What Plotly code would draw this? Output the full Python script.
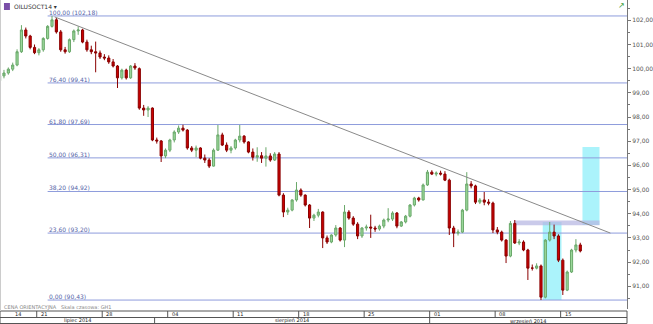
import plotly.graph_objects as go
import pandas as pd

# ---------------- data ----------------
open_ = [99.50, 99.70, 99.82, 99.98, 100.15, 100.70, 101.60, 101.35, 100.88, 100.66,
         100.78, 101.25, 101.75, 102.02, 101.52, 100.78, 100.70, 101.20, 101.56, 101.60,
         101.10, 100.78, 100.70, 100.65, 100.48, 100.44, 100.28, 100.11, 99.62, 99.94,
         99.62, 100.11, 100.00, 98.37, 98.29, 98.37, 97.05, 97.01, 96.39, 96.63,
         97.05, 97.38, 97.54, 97.46, 96.72, 96.63, 96.72, 96.30, 96.22, 95.97,
         96.63, 97.26, 96.84, 96.63, 96.72, 97.05, 97.21, 96.97, 96.55, 96.34,
         96.40, 96.30, 96.39, 96.22, 96.47, 94.77, 94.07, 94.15, 94.57, 94.98,
         94.77, 94.36, 93.82, 93.94, 94.07, 93.00, 92.83, 93.12, 93.41, 92.91,
         94.07, 93.82, 93.57, 93.08, 93.41, 93.45, 93.41, 93.37, 93.49, 93.74,
         93.78, 94.03, 93.49, 93.66, 93.90, 94.36, 94.65, 94.57, 95.19, 95.72,
         95.64, 95.68, 95.64, 95.39, 93.41, 93.20, 93.24, 94.15, 95.23, 95.15,
         94.48, 94.57, 94.48, 94.44, 93.33, 93.24, 92.91, 92.25, 93.60, 92.79,
         92.83, 92.50, 91.75, 91.75, 91.84, 90.55, 92.91, 93.24, 93.08, 92.08,
         90.84, 91.59, 92.50, 92.71]
high = [99.85, 99.95, 100.05, 100.25, 100.80, 101.80, 101.70, 101.40, 101.00, 100.85,
        101.30, 101.80, 102.18, 102.10, 101.60, 100.90, 101.25, 101.62, 101.75, 101.65,
        101.20, 100.95, 101.12, 100.75, 100.60, 100.55, 100.40, 100.15, 100.00, 100.00,
        100.15, 100.23, 100.05, 98.50, 98.45, 98.40, 97.15, 97.05, 96.70, 97.10,
        97.45, 97.65, 97.68, 97.50, 96.80, 96.82, 96.75, 96.45, 96.30, 96.70,
        97.67, 97.35, 96.95, 96.80, 97.10, 97.67, 97.25, 97.00, 96.70, 96.75,
        96.55, 96.75, 96.50, 96.55, 96.55, 94.85, 94.25, 94.60, 95.31, 95.05,
        94.80, 94.40, 94.00, 94.20, 94.10, 93.10, 93.15, 93.53, 93.45, 94.36,
        94.15, 93.90, 93.65, 93.45, 93.55, 93.96, 93.50, 93.55, 93.80, 94.23,
        94.10, 94.07, 93.70, 93.95, 94.40, 94.70, 94.70, 95.25, 95.81, 95.80,
        95.75, 95.78, 95.76, 95.45, 93.50, 93.35, 94.20, 95.72, 95.35, 95.20,
        94.65, 94.90, 94.60, 94.50, 93.45, 93.30, 92.95, 93.70, 93.74, 92.95,
        92.90, 92.55, 91.90, 91.95, 91.90, 92.95, 93.66, 93.55, 93.15, 92.15,
        91.65, 92.55, 92.95, 92.80]
low = [99.40, 99.60, 99.75, 99.90, 100.10, 100.65, 101.25, 100.80, 100.60, 100.55,
       100.70, 101.20, 101.70, 101.45, 100.70, 100.62, 100.65, 101.10, 101.40, 101.05,
       100.70, 100.60, 99.85, 100.40, 100.35, 100.20, 100.05, 99.20, 99.55, 99.55,
       99.58, 99.95, 98.30, 98.05, 98.00, 97.00, 96.90, 96.14, 96.30, 96.55,
       96.95, 97.30, 97.40, 96.65, 96.55, 96.34, 96.25, 96.10, 95.89, 95.95,
       96.60, 96.80, 96.55, 96.50, 96.65, 96.95, 96.90, 96.50, 96.20, 96.15,
       96.10, 95.95, 96.15, 96.18, 94.72, 93.86, 93.95, 94.10, 94.50, 94.70,
       94.30, 93.41, 93.70, 93.85, 92.58, 92.75, 92.78, 93.05, 92.85, 92.62,
       93.75, 93.50, 92.95, 93.00, 93.30, 93.00, 93.25, 93.30, 93.40, 93.65,
       93.70, 93.40, 93.45, 93.60, 93.85, 94.30, 94.50, 94.55, 95.15, 95.60,
       95.55, 95.58, 95.35, 93.12, 92.62, 93.10, 93.20, 94.10, 95.05, 94.40,
       94.40, 94.35, 94.35, 93.20, 93.15, 92.85, 91.96, 92.20, 92.75, 92.70,
       92.45, 91.26, 91.65, 91.70, 90.43, 90.50, 92.85, 92.95, 92.00, 90.64,
       90.80, 91.55, 92.40, 92.40]
close = [99.70, 99.82, 99.98, 100.15, 100.70, 101.60, 101.35, 100.88, 100.66, 100.78,
         101.25, 101.75, 102.02, 101.52, 100.78, 100.70, 101.20, 101.56, 101.60, 101.10,
         100.78, 100.70, 100.65, 100.48, 100.44, 100.28, 100.11, 99.62, 99.94, 99.62,
         100.11, 100.03, 98.37, 98.29, 98.37, 97.05, 97.01, 96.39, 96.63, 97.05,
         97.38, 97.54, 97.46, 96.72, 96.63, 96.72, 96.30, 96.22, 95.97, 96.63,
         97.26, 96.84, 96.63, 96.72, 97.05, 97.21, 96.97, 96.55, 96.34, 96.40,
         96.30, 96.39, 96.22, 96.47, 94.77, 94.07, 94.15, 94.57, 94.98, 94.77,
         94.36, 93.82, 93.94, 94.07, 93.00, 92.83, 93.12, 93.41, 92.91, 94.07,
         93.82, 93.57, 93.08, 93.41, 93.45, 93.41, 93.37, 93.49, 93.74, 93.78,
         94.03, 93.49, 93.66, 93.90, 94.36, 94.65, 94.57, 95.19, 95.72, 95.64,
         95.68, 95.64, 95.39, 93.41, 93.20, 93.24, 94.15, 95.23, 95.15, 94.48,
         94.57, 94.48, 94.44, 93.33, 93.24, 92.91, 92.25, 93.60, 92.79, 92.83,
         92.50, 91.75, 91.75, 91.84, 90.55, 92.91, 93.24, 93.08, 92.08, 90.84,
         91.59, 92.50, 92.71, 92.46]

session_days = pd.bdate_range("2014-07-16", "2014-09-16")
bars_per_day = 3
first_week_label = "14"
month_labels = {7: "lipiec 2014", 8: "sierpień 2014", 9: "wrzesień 2014"}

fib_pct = [100.0, 76.4, 61.8, 50.0, 38.2, 23.6, 0.0]
fib_price = [102.18, 99.41, 97.69, 96.31, 94.92, 93.20, 90.43]
fib_start_bar = 11

trend_x = [12.6, 139.9]
trend_y = [102.14, 93.20]

zone_x0 = [124.4, 133.5, 117.8]
zone_x1 = [128.7, 137.4, 137.4]
zone_y0 = [90.43, 93.53, 93.52]
zone_y1 = [93.66, 96.76, 93.72]
zone_col = ["rgba(150,240,250,0.8)", "rgba(150,240,250,0.8)", "rgba(180,180,225,0.7)"]

symbol = "OILUSOCT14 \u25be"
footer = "CENA ORIENTACYJNA   Skala czasowa: GH1"

# ---------------- figure ----------------
x = list(range(len(close)))
X_RANGE = [0.09, 143.7]
Y_RANGE = [90.06, 102.84]
W, H = 653, 324
M_L, M_R, M_T, M_B = 0, 21, 0, 15
PH = H - M_T - M_B
PLOT_BOTTOM = H - M_B


def yp(py):
    return (PLOT_BOTTOM - py) / PH


fig = go.Figure()
fig.add_trace(go.Candlestick(
    x=x, open=open_, high=high, low=low, close=close,
    increasing=dict(line=dict(color="#6aa86a", width=1), fillcolor="#9ad89a"),
    decreasing=dict(line=dict(color="#8a0000", width=1), fillcolor="#cc0000"),
    whiskerwidth=0, hoverinfo="skip", showlegend=False,
))
fig.add_trace(go.Scatter(x=trend_x, y=trend_y, mode="lines",
                         line=dict(color="#8a8a8a", width=1), hoverinfo="skip",
                         showlegend=False))

shapes = []
annotations = []
for x0, x1, y0, y1, c in zip(zone_x0, zone_x1, zone_y0, zone_y1, zone_col):
    shapes.append(dict(type="rect", xref="x", yref="y", x0=x0, x1=x1, y0=y0, y1=y1,
                       fillcolor=c, line=dict(width=0), layer="below"))
for pct, price in zip(fib_pct, fib_price):
    shapes.append(dict(type="line", xref="x", yref="y", x0=fib_start_bar, x1=X_RANGE[1],
                       y0=price, y1=price, line=dict(color="#8e9cdc", width=1),
                       layer="below"))
    lab = f"{pct:.2f}".replace(".", ",") + " (" + f"{price:.2f}".replace(".", ",") + ")"
    annotations.append(dict(x=fib_start_bar, y=price, xref="x", yref="y", text=lab,
                            showarrow=False, xanchor="left", yanchor="bottom",
                            font=dict(size=6, color="#5565a8", family="DejaVu Sans"),
                            xshift=-1, yshift=-2))

# bottom date rows
r0, r1, r2 = yp(311), yp(317.5), yp(H - 0.5)
for yy in (r0, r1, r2):
    shapes.append(dict(type="line", xref="paper", yref="paper", x0=0, x1=1, y0=yy, y1=yy,
                       line=dict(color="#555555", width=1)))
for xx in (0, 1):
    shapes.append(dict(type="line", xref="paper", yref="paper", x0=xx, x1=xx, y0=r0, y1=r2,
                       line=dict(color="#555555", width=1)))

week_bounds = []
month_bounds = []
for d, day in enumerate(session_days):
    b = d * bars_per_day - 0.5
    if day.weekday() == 0:
        week_bounds.append((b, day.strftime("%d")))
    if d > 0 and day.month != session_days[d - 1].month:
        month_bounds.append(b)

for b, lab in week_bounds:
    shapes.append(dict(type="line", xref="x", yref="paper", x0=b, x1=b, y0=r0, y1=r1,
                       line=dict(color="#555555", width=1)))
    annotations.append(dict(x=b, y=(r0 + r1) / 2, xref="x", yref="paper", text=lab,
                            showarrow=False, xanchor="left", yanchor="middle", xshift=2,
                            font=dict(size=5, color="#222222", family="DejaVu Sans")))
annotations.append(dict(x=(X_RANGE[0] + week_bounds[0][0]) / 2, y=(r0 + r1) / 2, xref="x",
                        yref="paper", text=first_week_label, showarrow=False,
                        xanchor="center", yanchor="middle",
                        font=dict(size=5, color="#222222", family="DejaVu Sans")))
mb = [X_RANGE[0]] + month_bounds + [X_RANGE[1]]
months = [session_days[0].month] + [session_days[int((b + 0.5) / bars_per_day)].month
                                    for b in month_bounds]
for b in month_bounds:
    shapes.append(dict(type="line", xref="x", yref="paper", x0=b, x1=b, y0=r1, y1=r2,
                       line=dict(color="#555555", width=1)))
for i, m in enumerate(months):
    annotations.append(dict(x=(mb[i] + mb[i + 1]) / 2, y=(r1 + r2) / 2, xref="x",
                            yref="paper", text=month_labels[m], showarrow=False,
                            xanchor="center", yanchor="middle",
                            font=dict(size=5, color="#222222", family="DejaVu Sans")))

annotations.append(dict(x=0.003, y=yp(307), xref="paper", yref="paper", text=footer,
                        showarrow=False, xanchor="left", yanchor="middle",
                        font=dict(size=5, color="#888888", family="DejaVu Sans")))
# header
shapes.append(dict(type="rect", xref="paper", yref="paper", x0=4 / 632, x1=10 / 632,
                   y0=yp(10), y1=yp(3), fillcolor="#7a4fa8", line=dict(width=0)))
annotations.append(dict(x=12 / 632, y=yp(6.5), xref="paper", yref="paper", text=symbol,
                        showarrow=False, xanchor="left", yanchor="middle",
                        font=dict(size=6, color="#333333", family="DejaVu Sans")))
annotations.append(dict(x=626 / 632, y=yp(6), xref="paper", yref="paper", text="\u2197",
                        showarrow=False, xanchor="center", yanchor="middle",
                        font=dict(size=8, color="#3aa03a", family="DejaVu Sans")))
# left border
shapes.append(dict(type="line", xref="paper", yref="paper", x0=0, x1=0, y0=yp(311), y1=1,
                   line=dict(color="#cccccc", width=2)))

fig.update_layout(
    width=W, height=H, margin=dict(l=M_L, r=M_R, t=M_T, b=M_B, pad=0),
    paper_bgcolor="white", plot_bgcolor="white", separators=",.",
    shapes=shapes, annotations=annotations, hovermode=False,
    xaxis=dict(range=X_RANGE, showticklabels=False, showgrid=False, zeroline=False,
               showline=False, ticks="", rangeslider=dict(visible=False), fixedrange=True),
    yaxis=dict(range=Y_RANGE, side="right", showgrid=False, zeroline=False,
               showline=True, linecolor="#777777", linewidth=1, ticks="outside",
               ticklen=3, tickcolor="#777777", dtick=1, tick0=0, tickformat=".2f",
               tickfont=dict(size=6, color="#555555", family="DejaVu Sans"),
               minor=dict(ticks="outside", ticklen=2, dtick=0.5, tickcolor="#777777"),
               fixedrange=True),
)
fig.write_html("out.html")
